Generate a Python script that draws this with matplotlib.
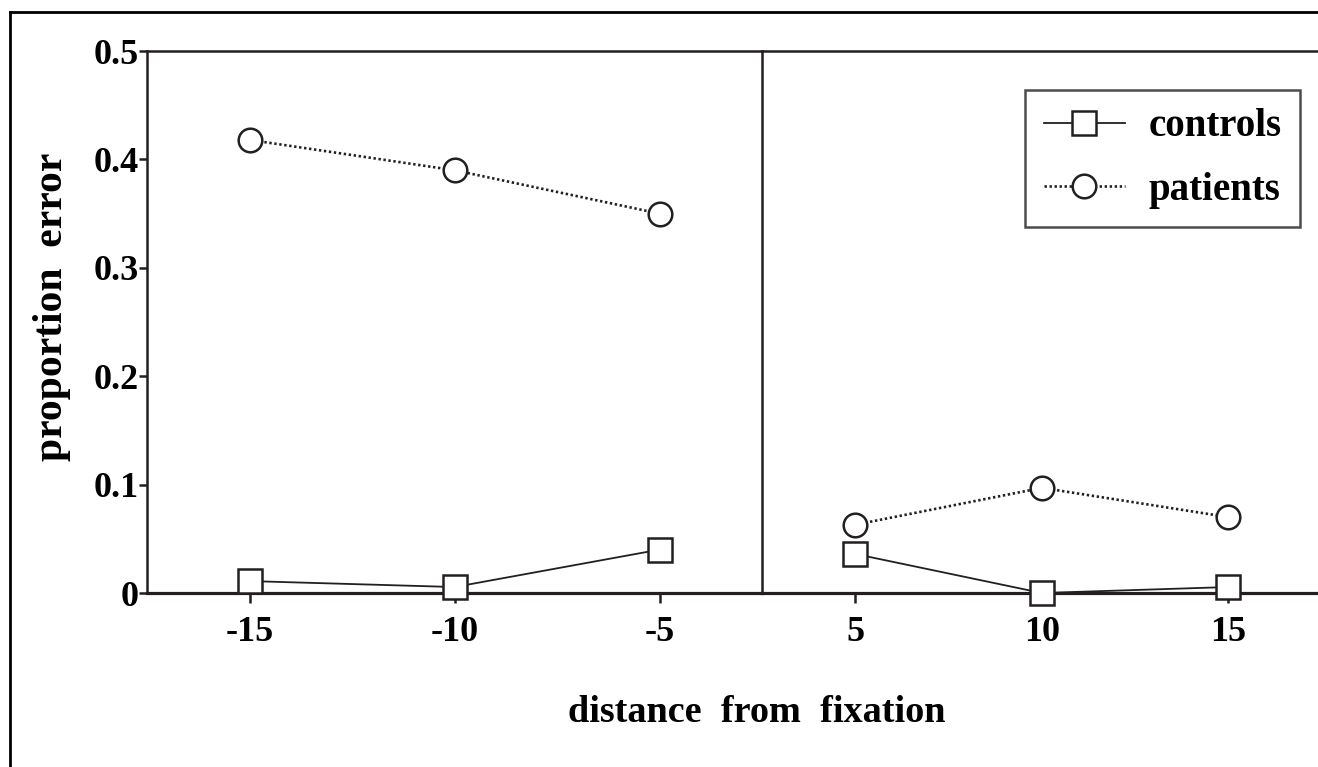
import matplotlib
matplotlib.use("Agg")
import matplotlib.pyplot as plt
from matplotlib.lines import Line2D

# ---- data ----
x_left = [-15, -10, -5]
x_right = [5, 10, 15]
controls_left = [0.011, 0.0055, 0.040]
controls_right = [0.036, 0.0, 0.0055]
patients_left = [0.418, 0.390, 0.350]
patients_right = [0.063, 0.097, 0.070]
y_ticks = [0, 0.1, 0.2, 0.3, 0.4, 0.5]
y_ticklabels = ["0", "0.1", "0.2", "0.3", "0.4", "0.5"]
x_ticklabels_left = ["-15", "-10", "-5"]
x_ticklabels_right = ["5", "10", "15"]

W, H = 1318, 767
fig = plt.figure(figsize=(W / 100, H / 100), dpi=100)
fig.patch.set_facecolor("white")

font = "Liberation Serif"
plt.rcParams["font.family"] = font
plt.rcParams["font.weight"] = "bold"

def fx(px):
    return px / W

def fy(py):
    return 1 - py / H

top_px, bot_px = 51, 593
left_px, mid_px, right_px = 147, 762, 1318

axR = fig.add_axes([fx(mid_px), fy(bot_px), fx(right_px) - fx(mid_px), fy(top_px) - fy(bot_px)])
axL = fig.add_axes([fx(left_px), fy(bot_px), fx(mid_px) - fx(left_px), fy(top_px) - fy(bot_px)])
axR.patch.set_visible(False)
axL.patch.set_visible(False)

col = "#231f20"
ms = 17
mew = 1.8
dots = (0, (0.9, 1.0))
tick_fs = 26
for ax, xs, c, p in [(axL, x_left, controls_left, patients_left),
                     (axR, x_right, controls_right, patients_right)]:
    ax.plot(xs, c, color=col, lw=1.3, marker="s", ms=ms, mfc="white",
            mec=col, mew=mew, clip_on=False, zorder=5)
    ax.plot(xs, p, color=col, lw=1.9, ls=dots, marker="o", ms=ms,
            mfc="white", mec=col, mew=mew, clip_on=False, zorder=5)
    ax.set_ylim(0, 0.5)
    for s in ax.spines.values():
        s.set_color(col)
        s.set_linewidth(1.8)
    ax.spines["bottom"].set_linewidth(2.3)
    ax.tick_params(axis="x", direction="out", length=7.5, width=1.8, color=col,
                   pad=9)

axL.set_xlim(-17.5, -2.5)
axR.set_xlim(2.5, 17.4)
axL.set_xticks(x_left)
axL.set_xticklabels(x_ticklabels_left, fontsize=tick_fs, fontweight="bold", family=font)
axR.set_xticks(x_right)
axR.set_xticklabels(x_ticklabels_right, fontsize=tick_fs, fontweight="bold", family=font)

axL.set_yticks(y_ticks)
axL.set_yticklabels(y_ticklabels, fontsize=tick_fs, fontweight="bold", family=font)
axL.tick_params(axis="y", direction="out", length=6, width=1.8, color=col, pad=0)
axR.set_yticks([])
axR.spines["left"].set_visible(False)
axR.spines["right"].set_visible(False)

fig.text(fx(52), fy(307), "proportion  error", rotation=90, ha="center", va="center",
         fontsize=30, fontweight="bold", family=font)
fig.text(fx(757), fy(712), "distance  from  fixation", ha="center", va="center",
         fontsize=27.5, fontweight="bold", family=font)

# legend
handles = [
    Line2D([], [], color=col, lw=1.3, marker="s", ms=ms, mfc="white", mec=col, mew=mew),
    Line2D([], [], color=col, lw=1.9, ls=dots, marker="o", ms=ms, mfc="white", mec=col, mew=mew),
]
leg = axR.legend(handles, ["controls", "patients"], loc="upper right",
                 bbox_to_anchor=(fx(1300), fy(90)), bbox_transform=fig.transFigure,
                 prop={"family": font, "weight": "bold", "size": 28},
                 frameon=True, fancybox=False, edgecolor=col, handlelength=2.1,
                 handletextpad=0.6, borderpad=0.47, labelspacing=0.68, borderaxespad=0)
leg.get_frame().set_linewidth(1.8)

# figure frame (left and top)
fig.add_artist(Line2D([fx(10), fx(10)], [fy(12), 0], color="black", lw=2, transform=fig.transFigure))
fig.add_artist(Line2D([fx(10), 1], [fy(12), fy(12)], color="black", lw=2, transform=fig.transFigure))

fig.savefig("out.png", dpi=100, facecolor="white")
